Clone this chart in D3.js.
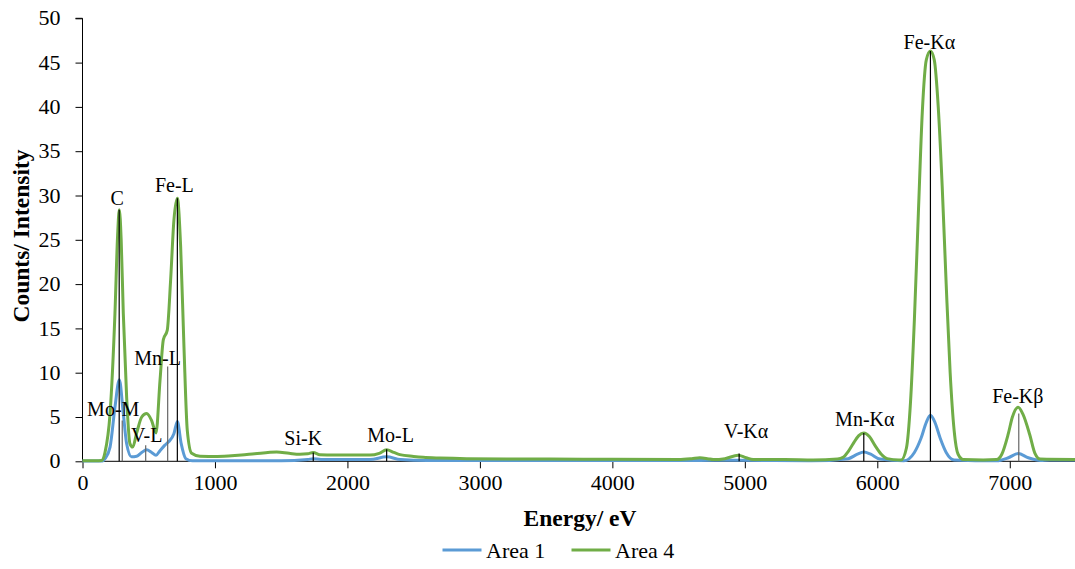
<!DOCTYPE html>
<html>
<head>
<meta charset="utf-8">
<script src="https://cdn.jsdelivr.net/npm/d3@7"></script>
<style>
  html, body { margin: 0; padding: 0; background: #fff; }
  svg { display: block; }
  text { font-family: "Liberation Serif", "Times New Roman", serif; fill: #000; }
</style>
</head>
<body>
<svg id="chart" width="1075" height="569"></svg>
<script>
// ---------------- DATA ----------------
const seriesNames = ["Area 1", "Area 4"];

// Area 1 (blue)
const area1Energy = [0, 150, 170, 208, 245, 278, 308, 333, 370, 409, 447, 484, 522, 555, 585, 620, 650, 690, 716, 745, 780, 830,
  1000, 1500, 1700, 1742, 1800, 2170, 2296, 2400, 2600, 3000, 4000, 4660, 4950, 5500, 5780, 5850, 5898, 5950, 6020,
  6200, 6280, 6330, 6370, 6401, 6435, 6475, 6520, 6580, 6900, 6990, 7063, 7140, 7230, 7300, 7500];
const area1Counts = [0.02, 0.02, 0.3, 1.6, 6.1, 9.2, 5.4, 2.0, 0.5, 0.56, 1.0, 1.3, 1.0, 0.68, 1.2, 1.8, 2.2, 3.1, 4.5, 2.0, 0.3, 0.05,
  0.05, 0.05, 0.2, 0.3, 0.2, 0.2, 0.5, 0.2, 0.1, 0.1, 0.08, 0.1, 0.12, 0.05, 0.3, 0.8, 1.05, 0.8, 0.25,
  0.05, 1.0, 2.6, 4.4, 5.2, 4.4, 2.6, 1.0, 0.15, 0.05, 0.4, 0.87, 0.4, 0.1, 0.15, 0.15];

// Area 4 (green)
const area4Energy = [0, 100, 145, 170, 208, 245, 265, 278, 292, 308, 333, 358, 379, 409, 447, 484, 522, 555, 585, 610, 640, 665, 690, 716, 741, 766, 791, 824, 887,
  1000, 1100, 1200, 1300, 1466, 1560, 1641, 1700, 1742, 1792, 1900, 2170, 2240, 2296, 2350, 2396, 2500, 2572, 2700, 2900, 3200, 3528,
  4000, 4500, 4600, 4660, 4720, 4761, 4850, 4950, 5010, 5063, 5300, 5516, 5700, 5742, 5780, 5818, 5860, 5898, 5940, 5982, 6030, 6075, 6164,
  6180, 6220, 6250, 6280, 6310, 6340, 6370, 6401, 6430, 6460, 6490, 6520, 6550, 6580, 6610, 6650, 6800,
  6900, 6940, 6987, 7020, 7063, 7100, 7151, 7190, 7230, 7500];
const area4Counts = [0.05, 0.05, 0.1, 1.0, 5.4, 16.7, 25.5, 28.4, 25.0, 16.7, 7.3, 2.0, 1.6, 3.2, 5.0, 5.4, 4.6, 3.2, 9.1, 13.7, 14.8, 20.4, 27.2, 29.7, 24.2, 12.9, 3.5, 0.9, 0.56,
  0.55, 0.6, 0.7, 0.85, 1.05, 0.9, 0.8, 0.85, 1.0, 0.75, 0.7, 0.7, 0.9, 1.3, 1.0, 0.75, 0.55, 0.45, 0.37, 0.3, 0.27, 0.25,
  0.22, 0.2, 0.3, 0.4, 0.3, 0.2, 0.3, 0.68, 0.4, 0.2, 0.2, 0.15, 0.25, 0.45, 1.1, 2.0, 2.9, 3.2, 2.8, 1.8, 0.8, 0.3, 0.15,
  0.15, 1.5, 6.5, 16, 28, 39.5, 45.3, 46.3, 45.3, 40, 31, 20, 10, 3.5, 0.8, 0.2, 0.15,
  0.2, 0.8, 3.0, 5.0, 6.1, 5.3, 3.0, 0.9, 0.25, 0.2];

// Peak markers
const peakLabels   = ["Mo-M", "C", "V-L", "Mn-L", "Fe-L", "Si-K", "Mo-L", "V-K\u03b1", "Mn-K\u03b1", "Fe-K\u03b1", "Fe-K\u03b2"];
const peakEnergies = [300, 277, 477, 643, 716, 1742, 2296, 4957, 5898, 6401, 7068];
const peakHeights  = [4.6, 28.4, 1.8, 10.7, 29.7, 1.0, 1.35, 0.87, 3.2, 46.3, 5.4];

const xTicks = [0, 1000, 2000, 3000, 4000, 5000, 6000, 7000];
const yTicks = [0, 5, 10, 15, 20, 25, 30, 35, 40, 45, 50];

// ---------------- LAYOUT / STYLE ----------------
const colors = { "Area 1": "#5B9BD5", "Area 4": "#70AD47" };
const markerColor = ["#666", "#000", "#666", "#666", "#000", "#000", "#000", "#000", "#000", "#000", "#666"];
// label offsets (dx, dy) relative to top of marker line
const labelOffsets = [[-9, -5], [-2, -5], [1, -3], [-10, -1], [-3, -6], [-10, -7], [4, -7], [7, -16], [1, -7], [-1, -2], [-1, -10]];

const svg = d3.select("#chart");
const x = d3.scaleLinear().domain([0, 7500]).range([82.5, 1076]);
const y = d3.scaleLinear().domain([0, 50]).range([461.3, 18.3]);

// axes
const yAxis = d3.axisLeft(y).tickValues(yTicks).tickSize(7).tickPadding(15).tickFormat(d3.format("d"));
const gy = svg.append("g").attr("transform", `translate(${x(0)},0)`).call(yAxis);
gy.select(".domain").attr("stroke", "#000").attr("d", `M-7,${y(50)}H0V${y(0)}`);
gy.selectAll("line").attr("stroke", "#000");
gy.selectAll("text").attr("font-size", 22).attr("font-family", "Liberation Serif, Times New Roman, serif").attr("dy", "0.3em");

const xAxis = d3.axisBottom(x).tickValues(xTicks).tickSize(7).tickPadding(6).tickFormat(d3.format("d"));
const gx = svg.append("g").attr("transform", `translate(0,${y(0)})`).call(xAxis);
gx.select(".domain").attr("stroke", "#000").attr("d", `M${x(0)},0H${x(7500)}`);
gx.selectAll("line").attr("stroke", "#000");
gx.selectAll("text").attr("font-size", 22).attr("font-family", "Liberation Serif, Times New Roman, serif");

// lines
const line = d3.line().x(d => x(d[0])).y(d => y(d[1])).curve(d3.curveMonotoneX);
const seriesData = {
  "Area 1": area1Energy.map((e, i) => [e, area1Counts[i]]),
  "Area 4": area4Energy.map((e, i) => [e, area4Counts[i]])
};
["Area 1", "Area 4"].forEach(name => {
  svg.append("path")
    .datum(seriesData[name])
    .attr("fill", "none")
    .attr("stroke", colors[name])
    .attr("stroke-width", 3)
    .attr("stroke-linejoin", "round")
    .attr("d", line);
});

// markers
peakLabels.forEach((lab, i) => {
  const px = x(peakEnergies[i]);
  const py = y(peakHeights[i]);
  svg.append("line")
    .attr("x1", px).attr("x2", px)
    .attr("y1", y(0)).attr("y2", py)
    .attr("stroke", markerColor[i]).attr("stroke-width", 1.2);
  svg.append("text")
    .attr("x", px + labelOffsets[i][0])
    .attr("y", py + labelOffsets[i][1])
    .attr("text-anchor", "middle")
    .attr("font-size", 20)
    .text(lab);
});

// axis titles
svg.append("text")
  .attr("x", 580).attr("y", 526)
  .attr("text-anchor", "middle")
  .attr("font-size", 23.5).attr("font-weight", "bold")
  .text("Energy/ eV");
svg.append("text")
  .attr("transform", "translate(29,236) rotate(-90)")
  .attr("text-anchor", "middle")
  .attr("font-size", 23.5).attr("font-weight", "bold")
  .text("Counts/ Intensity");

// legend
const legendX = [442.5, 571.5];
seriesNames.forEach((name, i) => {
  const g = svg.append("g").attr("transform", `translate(${legendX[i]},550)`);
  g.append("line").attr("x1", 0).attr("x2", 39).attr("y1", 0).attr("y2", 0)
    .attr("stroke", colors[name]).attr("stroke-width", 3);
  g.append("text").attr("x", 43.5).attr("y", 7.5).attr("font-size", 22).text(name);
});
</script>
</body>
</html>
